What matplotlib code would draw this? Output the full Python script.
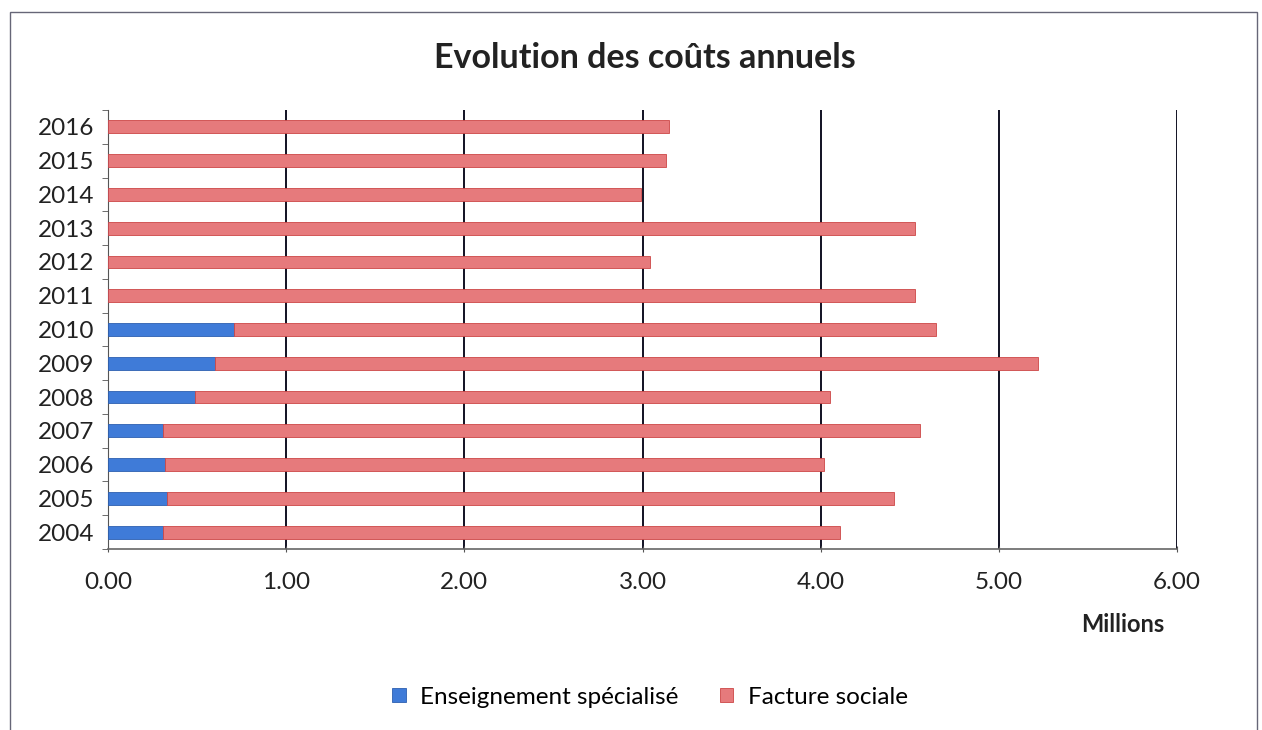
import matplotlib
matplotlib.use("Agg")
import matplotlib.pyplot as plt
from matplotlib.patches import Rectangle
import numpy as np

plt.rcParams['font.family'] = ['Lato', 'DejaVu Sans']

years = ['2004', '2005', '2006', '2007', '2008', '2009', '2010',
         '2011', '2012', '2013', '2014', '2015', '2016']
totals = [4.11, 4.41, 4.02, 4.56, 4.05, 5.22, 4.65,
          4.53, 3.04, 4.53, 2.99, 3.13, 3.15]
enseignement = [0.31, 0.33, 0.32, 0.31, 0.49, 0.60, 0.71,
                0.0, 0.0, 0.0, 0.0, 0.0, 0.0]
facture = [t - e for t, e in zip(totals, enseignement)]
xticks = [0, 1, 2, 3, 4, 5, 6]

fig = plt.figure(figsize=(12.62, 7.30), dpi=100)
ax = fig.add_axes([108/1262, 1-549/730, (1177-108)/1262, (549-110)/730])

y = np.arange(len(years))
h = 0.38
blue, blue_e = '#3f7bd8', '#2d5fb0'
red, red_e = '#e67a7c', '#cc4646'
ax.barh(y, enseignement, height=h, color=blue, edgecolor=blue_e, linewidth=0.6,
        label='Enseignement spécialisé', zorder=3)
ax.barh(y, facture, left=enseignement, height=h, color=red, edgecolor=red_e,
        linewidth=0.6, label='Facture sociale', zorder=3)

ax.set_xlim(0, 6)
ax.set_ylim(-0.5, len(years) - 0.5)
ax.set_xticks(xticks)
ax.set_xticklabels([f'{v:.2f}' for v in xticks], fontsize=17.5, color='#222222')
ax.set_yticks(y)
ax.set_yticklabels(years, fontsize=17.5, color='#222222')
ax.set_yticks(np.arange(-0.5, len(years), 1), minor=True)
ax.tick_params(axis='y', which='major', length=0, pad=10)
ax.tick_params(axis='y', which='minor', length=4, color='#555555')
ax.tick_params(axis='x', which='major', length=5, direction='inout', color='#555555', pad=14)

for v in xticks[1:]:
    ax.axvline(v, color='#111122', linewidth=1.4, zorder=1)

for s in ['top', 'right']:
    ax.spines[s].set_visible(False)
ax.spines['left'].set_color('#555555')
ax.spines['bottom'].set_color('#666666')
ax.spines['bottom'].set_linewidth(1.2)

fig.text(645/1262, 1-58/730, 'Evolution des coûts annuels', ha='center', va='center',
         fontsize=24.5, fontweight='bold', color='#222222')
fig.text(1123/1262, 1-625/730, 'Millions', ha='center', va='center',
         fontsize=17, fontweight='bold', color='#222222')

leg = fig.legend(loc='center', bbox_to_anchor=(650/1262, 1-697/730), ncol=2,
                 frameon=False, fontsize=17.5, handlelength=0.55, handleheight=0.55,
                 handletextpad=0.6, columnspacing=1.7)

fig.patches.append(Rectangle((10/1262, -0.01), (1257-10)/1262, 1-12/730 + 0.01,
                             transform=fig.transFigure, fill=False,
                             edgecolor='#666677', linewidth=1.0))

fig.savefig('out.png', dpi=100)
